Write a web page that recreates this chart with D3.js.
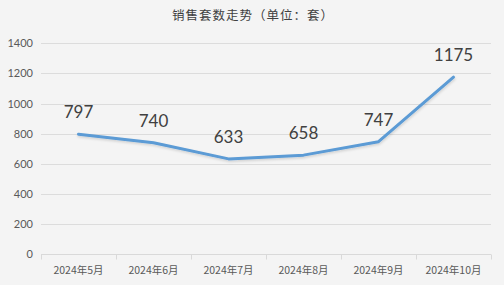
<!DOCTYPE html>
<html>
<head>
<meta charset="utf-8">
<script src="https://cdn.jsdelivr.net/npm/d3@7"></script>
<style>
  body { margin: 0; background: #f4f4f4; }
  svg { display: block; }
</style>
</head>
<body>
<div id="viz"></div>
<script>
var width = 504;
var height = 285;

// data
var months = ["2024年5月", "2024年6月", "2024年7月", "2024年8月", "2024年9月", "2024年10月"];
var sales = [797, 740, 633, 658, 747, 1175];
var yTicks = [0, 200, 400, 600, 800, 1000, 1200, 1400];

var plotLeft = 41, plotRight = 491, plotTop = 43.3, plotBottom = 254.3;

var svg = d3.select("#viz").append("svg")
   .attr("width", width)
   .attr("height", height);

svg.append("rect")
   .attr("width", width)
   .attr("height", height)
   .attr("fill", "#f4f4f4");

var defs = svg.append("defs");
var f = defs.append("filter").attr("id", "shadow")
   .attr("x", "-10%").attr("y", "-10%").attr("width", "120%").attr("height", "130%");
f.append("feDropShadow")
   .attr("dx", 0.5).attr("dy", 1.5).attr("stdDeviation", 1)
   .attr("flood-color", "#000").attr("flood-opacity", 0.15);

var x = d3.scaleBand().domain(months).range([plotLeft, plotRight]);
var y = d3.scaleLinear().domain([0, 1400]).range([plotBottom, plotTop]);

// title
svg.append("text")
   .attr("x", width / 2 + 1)
   .attr("y", 20)
   .attr("text-anchor", "middle")
   .style("font-family", "'Noto Sans CJK SC', sans-serif")
   .style("font-size", "12.5px")
   .style("letter-spacing", "1px")
   .attr("fill", "#404040")
   .text("销售套数走势（单位：套）");

// gridlines
svg.append("g")
   .selectAll("line")
   .data(yTicks.filter(function(d) { return d > 0; }))
   .join("line")
   .attr("x1", plotLeft).attr("x2", plotRight)
   .attr("y1", function(d) { return Math.round(y(d)) + 0.5; })
   .attr("y2", function(d) { return Math.round(y(d)) + 0.5; })
   .attr("stroke", "#dcdcdc")
   .attr("stroke-width", 1);

// y axis labels
svg.append("g")
   .selectAll("text")
   .data(yTicks)
   .join("text")
   .attr("x", 33)
   .attr("y", function(d) { return y(d) + 4; })
   .attr("text-anchor", "end")
   .style("font-family", "Lato, 'Liberation Sans', sans-serif")
   .style("font-size", "11px")
   .attr("fill", "#595959")
   .text(function(d) { return d; });

// x axis
var xAxis = d3.axisBottom(x).tickSize(0).tickPadding(10);
var gx = svg.append("g")
   .attr("transform", "translate(0," + (Math.round(plotBottom) + 0.5) + ")")
   .call(xAxis);
gx.select(".domain").attr("stroke", "#d9d9d9").attr("d", "M" + plotLeft + ",0H" + plotRight);
gx.selectAll("text")
   .style("font-family", "'Noto Sans CJK SC', sans-serif")
   .style("font-size", "10.5px")
   .attr("fill", "#595959")
   .attr("dy", "0.9em");
var bounds = d3.range(months.length + 1).map(function(i) { return plotLeft + i * x.bandwidth(); });
gx.selectAll(".sep")
   .data(bounds)
   .join("line")
   .attr("class", "sep")
   .attr("x1", function(d) { return Math.round(d) + 0.5; })
   .attr("x2", function(d) { return Math.round(d) + 0.5; })
   .attr("y1", 0).attr("y2", 5)
   .attr("stroke", "#d9d9d9");

// line
var line = d3.line()
   .x(function(d, i) { return x(months[i]) + x.bandwidth() / 2; })
   .y(function(d) { return y(d); });

svg.append("path")
   .datum(sales)
   .attr("d", line)
   .attr("fill", "none")
   .attr("stroke", "#5b9bd5")
   .attr("stroke-width", 3)
   .attr("stroke-linejoin", "round")
   .attr("stroke-linecap", "round")
   .attr("filter", "url(#shadow)");

// value labels
svg.append("g")
   .selectAll("text")
   .data(sales)
   .join("text")
   .attr("x", function(d, i) { return x(months[i]) + x.bandwidth() / 2; })
   .attr("y", function(d) { return y(d) - 16; })
   .attr("text-anchor", "middle")
   .style("font-family", "Lato, 'Liberation Sans', sans-serif")
   .style("font-size", "17px")
   .attr("fill", "#404040")
   .text(function(d) { return d; });
</script>
</body>
</html>
